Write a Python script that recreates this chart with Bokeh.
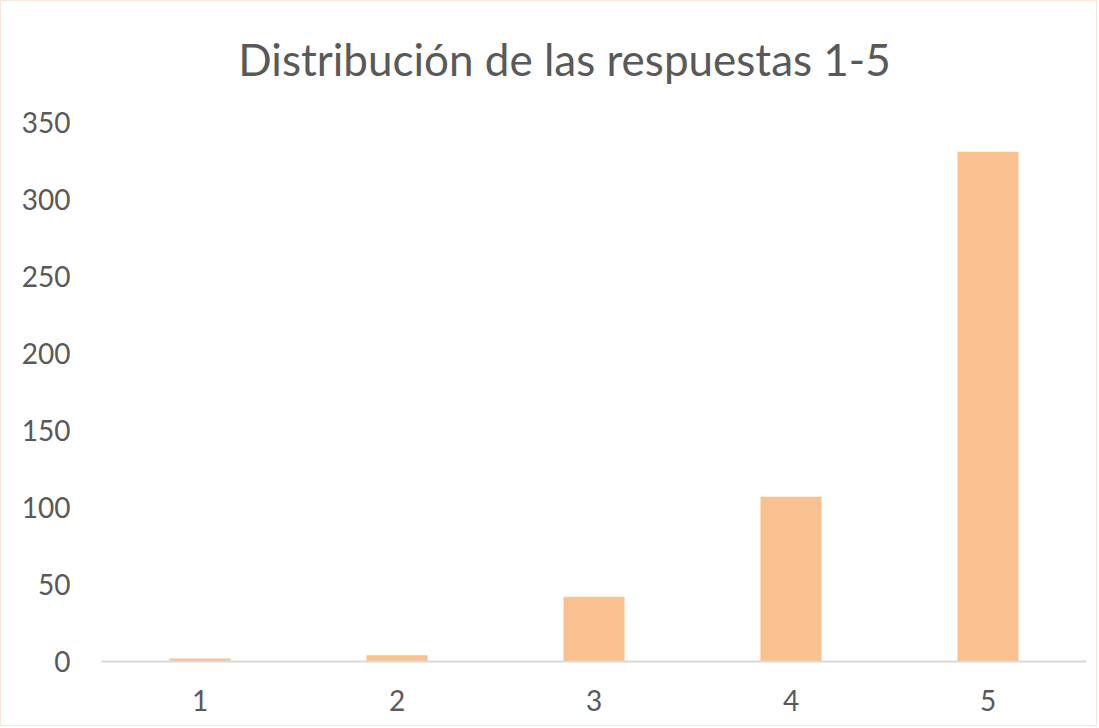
from bokeh.plotting import figure
from bokeh.models import Range1d, FactorRange, ColumnDataSource, FixedTicker, Label
from bokeh.embed import file_html
from bokeh.resources import INLINE

categories = ["1", "2", "3", "4", "5"]
counts = [2, 4, 42, 107, 331]
y_ticks = [0, 50, 100, 150, 200, 250, 300, 350]
title_text = "Distribución de las respuestas 1-5"

FONT = "Lato"
TEXT_COLOR = "#595959"

# the frame extends above the top tick (350) to leave room for the title inside it
FRAME_H = 650
AXIS_H = 539  # pixels between 0 and 350
y_top = y_ticks[-1] * FRAME_H / AXIS_H

p = figure(
    x_range=FactorRange(*categories),
    y_range=Range1d(0, y_top),
    frame_width=985, frame_height=FRAME_H,
    min_border_left=100, min_border_right=10,
    min_border_top=10, min_border_bottom=64,
    output_backend="svg", toolbar_location=None,
)
p.outline_line_color = None
p.styles = {"border": "1.5px solid #FCE4D6"}
p.xgrid.visible = False
p.ygrid.visible = False

src = ColumnDataSource(dict(cat=categories, n=counts))
p.vbar(x="cat", top="n", width=0.31, source=src, fill_color="#F9C18F", line_color=None)

# axes
p.yaxis.ticker = FixedTicker(ticks=y_ticks)
p.yaxis.axis_line_color = None
p.yaxis.major_tick_line_color = None
p.yaxis.minor_tick_line_color = None
p.yaxis.major_label_text_font = FONT
p.yaxis.major_label_text_font_size = "28px"
p.yaxis.major_label_text_color = TEXT_COLOR
p.yaxis.major_label_standoff = 25

p.xaxis.axis_line_color = "#D9D9D9"
p.xaxis.axis_line_width = 2
p.xaxis.major_tick_line_color = None
p.xaxis.minor_tick_line_color = None
p.xaxis.major_label_text_font = FONT
p.xaxis.major_label_text_font_size = "28px"
p.xaxis.major_label_text_color = TEXT_COLOR
p.xaxis.major_label_standoff = 22

title = Label(
    x=463, y=603, x_units="screen", y_units="screen",
    text=title_text, text_align="center", text_baseline="alphabetic",
    text_font=FONT, text_font_size="44px", text_color=TEXT_COLOR,
)
p.add_layout(title)

open("out.html", "w").write(file_html(p, INLINE))
